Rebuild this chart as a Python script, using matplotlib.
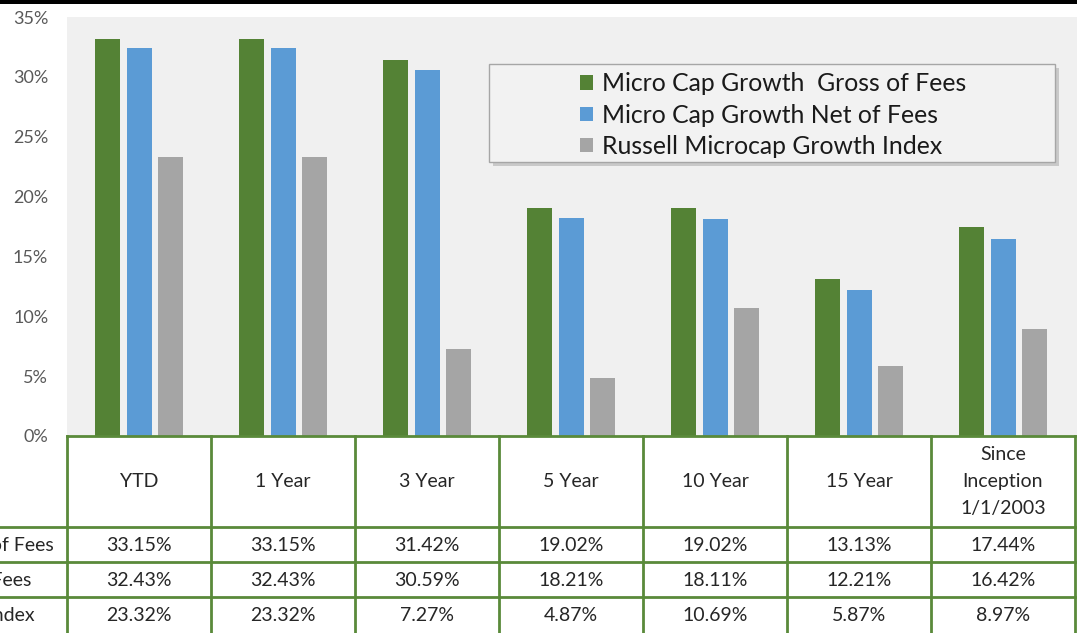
import matplotlib
matplotlib.use("Agg")
import matplotlib.pyplot as plt
from matplotlib.patches import Rectangle
from matplotlib.ticker import FuncFormatter
import numpy as np

plt.rcParams['font.family'] = ['Lato', 'DejaVu Sans']

periods = ["YTD", "1 Year", "3 Year", "5 Year", "10 Year", "15 Year",
           "Since\nInception\n1/1/2003"]
series_names = ["Micro Cap Growth  Gross of Fees",
                "Micro Cap Growth Net of Fees",
                "Russell Microcap Growth Index"]
gross = [33.15, 33.15, 31.42, 19.02, 19.02, 13.13, 17.44]
net = [32.43, 32.43, 30.59, 18.21, 18.11, 12.21, 16.42]
russell = [23.32, 23.32, 7.27, 4.87, 10.69, 5.87, 8.97]
colors = ["#548235", "#5b9bd5", "#a5a5a5"]

W, H = 1077, 633
fig = plt.figure(figsize=(W / 100, H / 100), dpi=100)
fig.patch.set_facecolor("white")

# layout in pixels
left, right = 67, 1077
top, zero = 17, 436
col_px = 144

ax = fig.add_axes([left / W, (H - zero) / H, (right - left) / W, (zero - top) / H])
ax.set_facecolor("#f0f0f0")
x = np.arange(len(periods))
ax.set_xlim(-0.5, -0.5 + (right - left) / col_px)
ax.set_ylim(0, 35)

bw = 25 / col_px
step = 31.5 / col_px
bars = []
for i, vals in enumerate([gross, net, russell]):
    b = ax.bar(x + (i - 1) * step, vals, width=bw, color=colors[i],
               label=series_names[i], zorder=2)
    bars.append(b)

for s in ax.spines.values():
    s.set_visible(False)
ax.set_xticks([])
ax.set_yticks(np.arange(0, 36, 5))
ax.yaxis.set_major_formatter(FuncFormatter(lambda v, p: "%d%%" % v))
ax.tick_params(axis="y", length=0, labelsize=13, labelcolor="#595959", pad=13.5)

# legend box with shadow
lx0, ly0, lx1, ly1 = 489, 64, 1055, 162
fig.patches.append(Rectangle((lx0 / W + 0.004, 1 - ly1 / H - 0.006),
                             (lx1 - lx0) / W, (ly1 - ly0) / H,
                             transform=fig.transFigure, facecolor="#b0b0b0",
                             edgecolor="none", alpha=0.6, zorder=5))
fig.patches.append(Rectangle((lx0 / W, 1 - ly1 / H),
                             (lx1 - lx0) / W, (ly1 - ly0) / H,
                             transform=fig.transFigure, facecolor="#f2f2f2",
                             edgecolor="#a6a6a6", linewidth=1, zorder=6))
leg = fig.legend(handles=bars, labels=series_names, loc="upper left",
                 bbox_to_anchor=(563 / W, 1 - 55 / H), frameon=False,
                 fontsize=17.8, handlelength=0.5, handleheight=0.5,
                 handletextpad=0.38, labelspacing=0.34, borderpad=0.2)
leg.set_zorder(7)
for t in leg.get_texts():
    t.set_color("#1a1a1a")

# data table below the chart, sharing the bar x scale
tab = fig.add_axes([left / W, 0, (right - left) / W, (H - zero) / H], sharex=ax)
tab.set_ylim(H - zero, 0)
tab.axis("off")
grid_c = "#5a8a3a"
head_h, row_h = 91, 35
xl = -0.5
xr = -0.5 + len(periods)
tab.plot([xl, xr], [0, 0], color=grid_c, lw=2, clip_on=False, zorder=3)
for r in range(1, 4):
    yy = head_h + (r - 1) * row_h
    tab.plot([xl - 2, xr], [yy, yy], color=grid_c, lw=2, clip_on=False)
for c in range(len(periods) + 1):
    tab.plot([xl + c, xl + c], [0, H - zero], color=grid_c, lw=2, clip_on=False)

for c, p in enumerate(periods):
    tab.text(c, head_h / 2, p, ha="center", va="center", fontsize=14,
             color="#262626", linespacing=1.7)
    for r, vals in enumerate([gross, net, russell]):
        tab.text(c, head_h + r * row_h + row_h / 2 + 1, "%.2f%%" % vals[c],
                 ha="center", va="center", fontsize=14, color="#262626")

# row labels (cut off by the left edge as in the source)
fig.canvas.draw()
rend = fig.canvas.get_renderer()
label_texts = []
for r, name in enumerate(series_names):
    t = fig.text(0, 1 - (zero + head_h + r * row_h + row_h / 2 + 1) / H, name,
                 ha="left", va="center", fontsize=14, color="#262626")
    label_texts.append(t)
w0 = label_texts[0].get_window_extent(rend).width
for t in label_texts:
    t.set_x((54 - w0) / W)

# black bar at the top
fig.patches.append(Rectangle((0, 1 - 4 / H), 1, 4 / H, transform=fig.transFigure,
                             facecolor="black", edgecolor="none"))

fig.savefig("out.png", dpi=100)
